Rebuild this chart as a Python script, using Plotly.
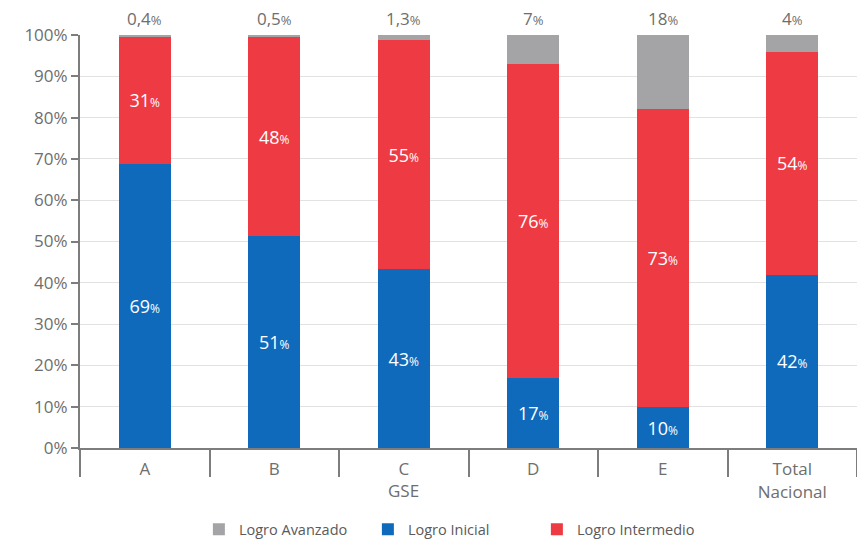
import plotly.graph_objects as go

# Data
categories = ["A", "B", "C", "D", "E", "Total<br>Nacional"]
logro_inicial = [69, 51, 43, 17, 10, 42]
logro_intermedio = [31, 48, 55, 76, 73, 54]
logro_avanzado = [0.4, 0.5, 1.3, 7, 18, 4]

BLUE = "#106abb"
RED = "#ee3a43"
GRAY = "#a4a4a6"
TEXT_GRAY = "#6e6e6e"
FONT = "Open Sans"


def pct_label(v, pct_size=12):
    s = f"{v:g}".replace(".", ",")
    return f"{s}<span style='font-size:{pct_size}px'>%</span>"


fig = go.Figure()

fig.add_trace(go.Bar(
    name="Logro Inicial", x=categories, y=logro_inicial,
    marker=dict(color=BLUE, line=dict(width=0)),
    text=[pct_label(v) for v in logro_inicial],
    textposition="inside", insidetextanchor="middle", textangle=0,
    textfont=dict(color="white", size=18, family=FONT),
    legendrank=2,
))
fig.add_trace(go.Bar(
    name="Logro Intermedio", x=categories, y=logro_intermedio,
    marker=dict(color=RED, line=dict(width=0)),
    text=[pct_label(v) for v in logro_intermedio],
    textposition="inside", insidetextanchor="middle", textangle=0,
    textfont=dict(color="white", size=18, family=FONT),
    legendrank=3,
))
fig.add_trace(go.Bar(
    name="Logro Avanzado", x=categories, y=logro_avanzado,
    marker=dict(color=GRAY, line=dict(width=0)),
    textposition="none",
    legendrank=1,
))

# Avanzado share written above each bar
for cat, v in zip(categories, logro_avanzado):
    fig.add_annotation(
        x=cat, y=1, xref="x", yref="paper", yanchor="bottom",
        text=pct_label(v, 13), showarrow=False, yshift=3,
        font=dict(size=17, color=TEXT_GRAY, family=FONT),
    )

# Axis title under the C group
fig.add_annotation(
    x="C", y=0, xref="x", yref="paper", yanchor="top",
    text="GSE", showarrow=False, yshift=-29,
    font=dict(size=17, color=TEXT_GRAY, family=FONT),
)

fig.update_layout(
    barmode="stack",
    barnorm="percent",
    bargap=0.6,
    width=857, height=544,
    margin=dict(l=80, r=0, t=35, b=96, autoexpand=False),
    plot_bgcolor="white", paper_bgcolor="white",
    font=dict(family=FONT, color=TEXT_GRAY, size=17),
    showlegend=True,
    legend=dict(
        orientation="h", x=0.153, xanchor="left", y=-0.158, yanchor="top",
        font=dict(size=14.5, color="#5a5a5a", family=FONT),
        traceorder="normal", itemwidth=30,
        entrywidth=124, entrywidthmode="pixels",
    ),
)

fig.update_xaxes(
    showline=True, linecolor="#7d7d7d", linewidth=2,
    ticks="outside", tickson="boundaries", ticklen=27, tickwidth=2,
    tickcolor="#7d7d7d", showgrid=False, ticklabelstandoff=5,
    tickfont=dict(size=17, color=TEXT_GRAY, family=FONT),
)
fig.update_yaxes(
    range=[0, 100], tickvals=list(range(0, 101, 10)),
    ticktext=[f"{t}%" for t in range(0, 101, 10)],
    showline=True, linecolor="#7d7d7d", linewidth=2,
    ticks="outside", ticklen=7, tickwidth=2, tickcolor="#7d7d7d",
    showgrid=True, gridcolor="#e2e2e2", gridwidth=1,
    zeroline=False,
    tickfont=dict(size=17, color=TEXT_GRAY, family=FONT),
)

fig.write_html("out.html")
